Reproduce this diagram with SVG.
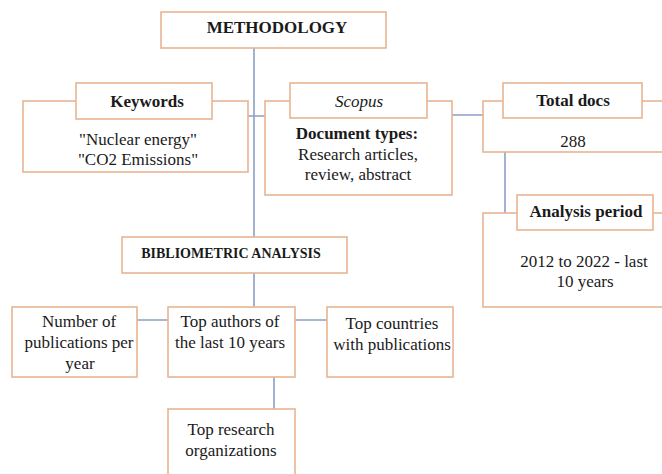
<svg xmlns="http://www.w3.org/2000/svg" width="662" height="474" viewBox="0 0 662 474">
<style>
.box{fill:#fff;stroke:#e8b591;stroke-width:1.6}
.ln{stroke:#8c9fc6;stroke-width:1.6;fill:none}
.h,.b{font-family:Liberation Serif,serif;fill:#1a1a1a;text-anchor:middle;font-size:17px}
.h{font-weight:bold}
</style>
<rect width="662" height="474" fill="#fff"/>
<g id="connectors">
<line class="ln" x1="254" y1="48" x2="254" y2="237"/>
<line class="ln" x1="235" y1="116" x2="273" y2="116"/>
<line class="ln" x1="441" y1="115" x2="492" y2="115"/>
<line class="ln" x1="505" y1="138" x2="505" y2="242"/>
<line class="ln" x1="254" y1="273" x2="254" y2="307"/>
<line class="ln" x1="123" y1="320" x2="173" y2="320"/>
<line class="ln" x1="292" y1="320" x2="332" y2="320"/>
<line class="ln" x1="274" y1="365" x2="274" y2="413"/>
</g>
<g font-family="Liberation Serif, serif">
<g id="methodology">
<rect class="box" x="161" y="12" width="225" height="36"/>
<text class="h" x="277" y="33">METHODOLOGY</text>
</g>
<g id="keywords">
<rect class="box" x="23" y="101" width="225" height="71"/>
<rect class="box" x="76" y="83" width="136" height="36"/>
<text class="h" x="147" y="107">Keywords</text>
<text class="b" x="138" y="145">"Nuclear energy"</text>
<text class="b" x="138" y="165">"CO2 Emissions"</text>
</g>
<g id="scopus">
<rect class="box" x="265" y="101" width="187" height="94"/>
<rect class="box" x="290" y="83" width="137" height="35"/>
<text class="b" x="359" y="107" font-style="italic">Scopus</text>
<text class="h" x="357" y="139">Document types:</text>
<text class="b" x="358" y="160">Research articles,</text>
<text class="b" x="358" y="180">review, abstract</text>
</g>
<g id="total-docs">
<rect class="box" x="483" y="101" width="190" height="51"/>
<rect class="box" x="503" y="83" width="139" height="35"/>
<text class="h" x="573" y="106">Total docs</text>
<text class="b" x="573" y="147">288</text>
</g>
<g id="analysis-period">
<rect class="box" x="483" y="213" width="190" height="94"/>
<rect class="box" x="517" y="195" width="136" height="35"/>
<text class="h" x="586" y="217">Analysis period</text>
<text class="b" x="584" y="267">2012 to 2022 - last</text>
<text class="b" x="585" y="287">10 years</text>
</g>
<g id="bibliometric">
<rect class="box" x="122" y="237" width="225" height="36"/>
<text class="h" x="231" y="258" style="font-size:14px">BIBLIOMETRIC ANALYSIS</text>
</g>
<g id="number-publications">
<rect class="box" x="12" y="307" width="125" height="70"/>
<text class="b" x="79" y="327">Number of</text>
<text class="b" x="79" y="348">publications per</text>
<text class="b" x="80" y="369">year</text>
</g>
<g id="top-authors">
<rect class="box" x="168" y="307" width="127" height="70"/>
<text class="b" x="230" y="327">Top authors of</text>
<text class="b" x="230" y="348">the last 10 years</text>
</g>
<g id="top-countries">
<rect class="box" x="327" y="307" width="126" height="70"/>
<text class="b" x="392" y="329">Top countries</text>
<text class="b" x="392" y="350">with publications</text>
</g>
<g id="top-research">
<rect class="box" x="168" y="409" width="127" height="80"/>
<text class="b" x="231" y="435">Top research</text>
<text class="b" x="231" y="456">organizations</text>
</g>
</g>
</svg>
